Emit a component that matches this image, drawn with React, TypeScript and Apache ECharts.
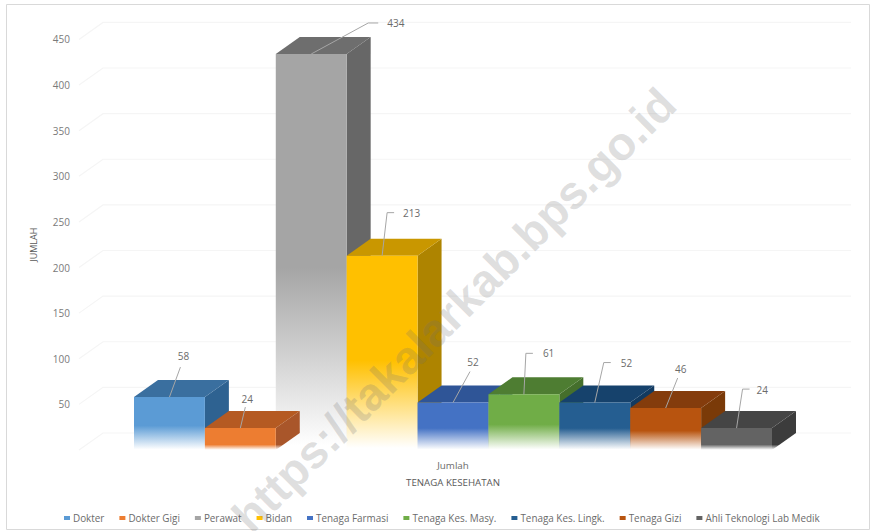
import React, { useEffect, useRef } from "react";
import * as echarts from "echarts";

const categories = ["Jumlah"];
const profesi = [
  "Dokter",
  "Dokter Gigi",
  "Perawat",
  "Bidan",
  "Tenaga Farmasi",
  "Tenaga Kes. Masy.",
  "Tenaga Kes. Lingk.",
  "Tenaga Gizi",
  "Ahli Teknologi Lab Medik",
];
const jumlah = [58, 24, 434, 213, 52, 61, 52, 46, 24];
const yTicks = [0, 50, 100, 150, 200, 250, 300, 350, 400, 450];

const frontColors = ["#5b9bd5", "#ed7d31", "#a5a5a5", "#ffc000", "#4472c4", "#70ad47", "#255e91", "#b8540f", "#636363"];
const topColors = ["#3a6f9f", "#b55a22", "#6e6e6e", "#c99700", "#2f5597", "#4e7d32", "#16426c", "#843c0c", "#454545"];
const sideColors = ["#2e6291", "#a9562a", "#676767", "#ae8400", "#2a4d87", "#456f2c", "#123a60", "#7a3a08", "#3c3c3c"];

// Leader line bend points and label anchor, relative to the middle of a bar's top front edge.
const leaders: number[][][] = [
  [[0, 0], [11, -30]],
  [[0, 0], [5, -21]],
  [[0, 0], [57, -31], [67, -31]],
  [[0, 0], [5, -43], [12, -43]],
  [[0, 0], [17, -31]],
  [[0, 0], [2, -41], [9, -41]],
  [[0, 0], [9, -40], [16, -40]],
  [[0, 0], [12, -30]],
  [[0, 0], [6, -39], [13, -39]],
];
const labelShift = [[3, -11], [2, -8], [9, 0], [9, 0], [3, -10], [10, 0], [10, 0], [3, -9], [7, 1]];

const DEPTH_X = 24;
const DEPTH_Y = -17;
const BAR_SHARE = 638 / 748;
const TEXT_FONT = '"Open Sans", sans-serif';

function fade(color: string, solidUntil: number) {
  return new echarts.graphic.LinearGradient(0, 0, 0, 1, [
    { offset: 0, color },
    { offset: solidUntil, color },
    { offset: 0.99, color: "#ffffff" },
    { offset: 1, color: "#ffffff" },
  ]);
}

function renderBar(index: number) {
  return (_params: any, api: any) => {
    const value = api.value(1);
    const [cx, top] = api.coord([0, value]);
    const [, base] = api.coord([0, 0]);
    const width = api.size([1, 0])[0] * BAR_SHARE;
    const barW = width / profesi.length;
    const left = cx - width / 2 + index * barW;
    const right = left + barW;
    const mid = left + barW / 2;
    // Low bars keep their colour further down before fading out.
    const solidFront = base - top < 30 ? 0.75 : 0.54;

    const path = leaders[index].map(([dx, dy]) => [mid + dx, top + dy]);
    const end = path[path.length - 1];
    const [sx, sy] = labelShift[index];
    return {
      type: "group",
      children: [
        {
          type: "polygon",
          shape: { points: [[right, top], [right + DEPTH_X, top + DEPTH_Y], [right + DEPTH_X, base + DEPTH_Y], [right, base]] },
          style: { fill: fade(sideColors[index], 0.86) },
        },
        {
          type: "polygon",
          shape: { points: [[left, top], [left + DEPTH_X, top + DEPTH_Y], [right + DEPTH_X, top + DEPTH_Y], [right, top]] },
          style: { fill: topColors[index] },
        },
        {
          type: "rect",
          shape: { x: left, y: top, width: barW, height: base - top },
          style: { fill: fade(frontColors[index], solidFront) },
        },
        {
          type: "polyline",
          shape: { points: path },
          style: { fill: "none", stroke: "#a6a6a6", lineWidth: 1 },
        },
        {
          type: "text",
          style: {
            x: end[0] + sx,
            y: end[1] + sy,
            text: String(value),
            fill: "#6b6b6b",
            font: `10px ${TEXT_FONT}`,
            align: sx > 5 ? "left" : "center",
            verticalAlign: "middle",
          },
        },
      ],
    };
  };
}

function renderWallLine(_params: any, api: any) {
  const [x0, y] = api.coord([0, api.value(1)]);
  const halfWidth = api.size([1, 0])[0] / 2;
  const left = x0 - halfWidth;
  const right = x0 + halfWidth;
  return {
    type: "polyline",
    shape: {
      points: [[left, y], [left + DEPTH_X, y + DEPTH_Y], [right + DEPTH_X, y + DEPTH_Y]],
    },
    style: { fill: "none", stroke: "#f5f5f5", lineWidth: 1.2 },
  };
}

export default function App() {
  const ref = useRef<HTMLDivElement>(null);

  useEffect(() => {
    if (!ref.current) return;
    const chart = echarts.init(ref.current, undefined, { renderer: "svg" });
    chart.setOption({
      animation: false,
      backgroundColor: "#ffffff",
      textStyle: { fontFamily: TEXT_FONT },
      grid: { left: 79, right: 46, top: 39.4, bottom: 81 },
      xAxis: {
        type: "category",
        data: categories,
        axisLine: { show: false },
        axisTick: { show: false },
        axisLabel: { color: "#6b6b6b", fontSize: 9.8, margin: 10 },
        name: "TENAGA KESEHATAN",
        nameLocation: "middle",
        nameGap: 27,
        nameTextStyle: { color: "#595959", fontSize: 9.7 },
      },
      yAxis: {
        type: "value",
        min: 0,
        max: 450,
        interval: 50,
        splitLine: { show: false },
        axisLine: { show: false },
        axisTick: { show: false },
        axisLabel: {
          color: "#7a7a7a",
          fontSize: 10,
          margin: 9,
          formatter: (v: number) => (v === 0 ? "" : String(v)),
        },
        name: "JUMLAH",
        nameLocation: "middle",
        nameGap: 41,
        nameTextStyle: { color: "#595959", fontSize: 9 },
      },
      legend: {
        data: profesi,
        left: 59,
        top: 508,
        icon: "rect",
        itemWidth: 6,
        itemHeight: 4,
        itemGap: 15,
        textStyle: { color: "#6b6b6b", fontSize: 9.9, padding: [0, 0, 0, -2] },
      },
      series: [
        {
          type: "custom",
          name: "grid",
          silent: true,
          z: 1,
          data: yTicks.map((t) => [0, t]),
          renderItem: renderWallLine,
        },
        ...profesi.map((name, i) => ({
          type: "custom",
          name,
          // The tall bar sits behind its shorter neighbour's side face.
          z: jumlah[i] === Math.max(...jumlah) ? 2 : 3,
          itemStyle: { color: frontColors[i] },
          data: [[0, jumlah[i]]],
          encode: { x: 0, y: 1 },
          renderItem: renderBar(i),
        })),
      ],
      graphic: [
        {
          type: "rect",
          silent: true,
          z: 0,
          shape: { x: 6.5, y: 4.5, width: 863, height: 525 },
          style: { fill: "none", stroke: "#d9d9d9", lineWidth: 1 },
        },
        {
          type: "text",
          silent: true,
          z: 50,
          x: 454,
          y: 310,
          rotation: Math.PI / 4,
          style: {
            text: "https://takalarkab.bps.go.id",
            font: 'bold 46.5px "Liberation Sans", sans-serif',
            fill: "rgba(110,110,110,0.22)",
            align: "center",
            verticalAlign: "middle",
          },
        },
      ],
    });
    return () => chart.dispose();
  }, []);

  return <div ref={ref} style={{ position: "fixed", left: 0, top: 0, width: 873, height: 531 }} />;
}
